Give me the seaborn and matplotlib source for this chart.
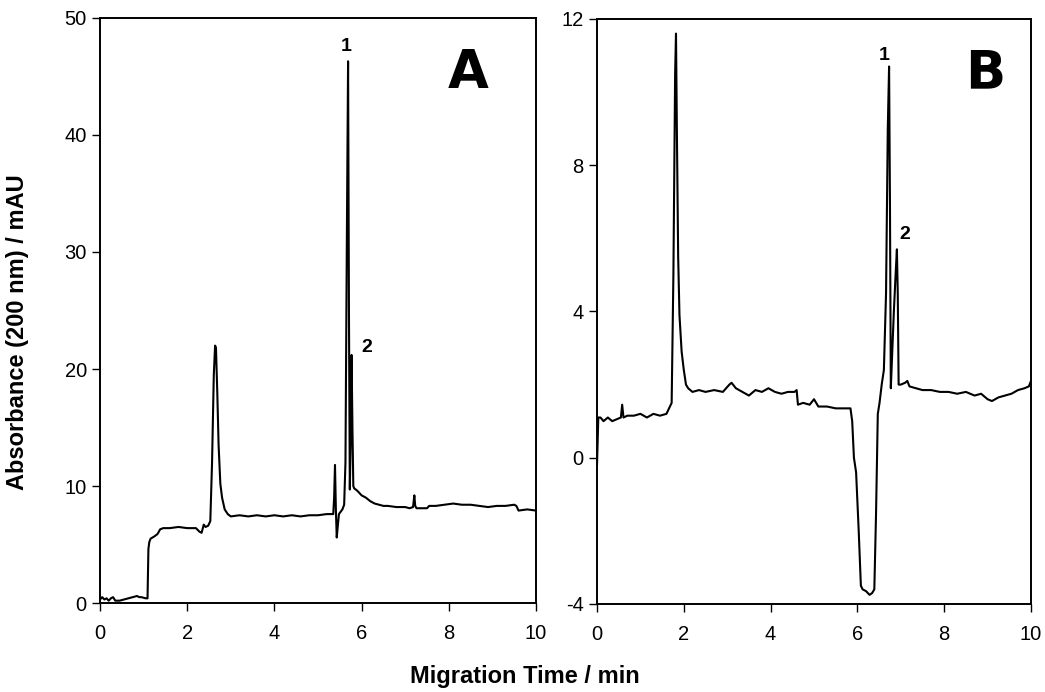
import matplotlib
matplotlib.use("Agg")
import matplotlib.pyplot as plt
import numpy as np
import pandas as pd
import seaborn as sns

# -------------------------
# Data
# -------------------------
# panel A: migration time (min) / absorbance (mAU)
time_a = [0.00, 0.05, 0.10, 0.15, 0.20, 0.25, 0.30, 0.35, 0.45, 0.55, 0.65, 0.75,
          0.85, 0.90, 0.95, 1.05, 1.09, 1.11, 1.13, 1.16, 1.25, 1.32, 1.38, 1.45,
          1.60, 1.80, 2.00, 2.20, 2.28, 2.33, 2.38, 2.42, 2.48, 2.53, 2.57, 2.61,
          2.64, 2.66, 2.69, 2.72, 2.76, 2.80, 2.86, 2.93, 3.00, 3.20, 3.40, 3.60,
          3.80, 4.00, 4.20, 4.40, 4.60, 4.80, 5.00, 5.20, 5.35, 5.37, 5.39, 5.41,
          5.43, 5.45, 5.48, 5.52, 5.56, 5.60, 5.63, 5.66, 5.69, 5.71, 5.73, 5.75,
          5.77, 5.79, 5.81, 5.83, 5.90, 6.00, 6.10, 6.20, 6.30, 6.40, 6.50, 6.60,
          6.80, 7.00, 7.10, 7.18, 7.21, 7.23, 7.26, 7.40, 7.50, 7.55, 7.70, 7.90,
          8.10, 8.30, 8.50, 8.70, 8.90, 9.10, 9.30, 9.50, 9.55, 9.60, 9.80, 10.00]
abs_a = [0.3, 0.5, 0.3, 0.4, 0.2, 0.4, 0.5, 0.2, 0.2, 0.3, 0.4, 0.5,
         0.6, 0.5, 0.5, 0.4, 0.4, 4.6, 5.2, 5.5, 5.7, 5.9, 6.3, 6.4,
         6.4, 6.5, 6.4, 6.4, 6.1, 6.0, 6.7, 6.5, 6.6, 7.0, 12.0, 19.5,
         22.0, 21.8, 18.0, 13.5, 10.2, 9.0, 8.0, 7.6, 7.4, 7.5, 7.4, 7.5,
         7.4, 7.5, 7.4, 7.5, 7.4, 7.5, 7.5, 7.6, 7.6, 9.0, 11.8, 8.0,
         5.6, 6.4, 7.6, 7.8, 8.0, 8.4, 12.0, 30.0, 46.3, 25.0, 9.7, 14.0,
         21.2, 15.0, 10.0, 9.8, 9.6, 9.2, 9.0, 8.7, 8.5, 8.4, 8.3, 8.3,
         8.2, 8.2, 8.1, 8.2, 9.2, 8.3, 8.1, 8.1, 8.1, 8.3, 8.3, 8.4,
         8.5, 8.4, 8.4, 8.3, 8.2, 8.3, 8.3, 8.4, 8.3, 7.9, 8.0, 7.9]

# panel B
time_b = [0.00, 0.03, 0.08, 0.15, 0.25, 0.35, 0.45, 0.55, 0.58, 0.61, 0.70, 0.85,
          1.00, 1.15, 1.30, 1.45, 1.60, 1.68, 1.72, 1.76, 1.80, 1.82, 1.84, 1.87,
          1.90, 1.95, 2.00, 2.05, 2.10, 2.20, 2.35, 2.50, 2.70, 2.90, 3.05, 3.10,
          3.20, 3.35, 3.50, 3.65, 3.80, 3.95, 4.10, 4.25, 4.40, 4.55, 4.60, 4.63,
          4.75, 4.90, 5.00, 5.10, 5.30, 5.50, 5.70, 5.84, 5.88, 5.92, 5.97, 6.03,
          6.08, 6.12, 6.20, 6.28, 6.34, 6.39, 6.43, 6.47, 6.51, 6.56, 6.61, 6.66,
          6.70, 6.73, 6.75, 6.77, 6.80, 6.84, 6.88, 6.91, 6.93, 6.95, 7.00, 7.10,
          7.15, 7.20, 7.35, 7.50, 7.70, 7.90, 8.10, 8.30, 8.50, 8.70, 8.85, 9.00,
          9.10, 9.25, 9.40, 9.55, 9.70, 9.85, 9.95, 10.00]
abs_b = [-0.2, 1.1, 1.1, 1.0, 1.1, 1.0, 1.05, 1.1, 1.45, 1.1, 1.15, 1.15,
         1.2, 1.1, 1.2, 1.15, 1.2, 1.4, 1.5, 5.0, 10.5, 11.6, 9.0, 5.5,
         3.9, 2.9, 2.4, 2.0, 1.9, 1.8, 1.85, 1.8, 1.85, 1.8, 2.0, 2.05,
         1.9, 1.8, 1.7, 1.85, 1.8, 1.9, 1.8, 1.75, 1.8, 1.8, 1.85, 1.45,
         1.5, 1.45, 1.6, 1.4, 1.4, 1.35, 1.35, 1.35, 1.0, 0.0, -0.4, -2.0,
         -3.5, -3.6, -3.65, -3.75, -3.7, -3.6, -1.5, 1.2, 1.5, 2.0, 2.4, 4.5,
         9.0, 10.7, 7.0, 1.9, 2.8, 4.0, 5.0, 5.7, 4.5, 2.0, 2.0, 2.05,
         2.1, 1.95, 1.9, 1.85, 1.85, 1.8, 1.8, 1.75, 1.8, 1.7, 1.75, 1.6,
         1.55, 1.65, 1.7, 1.75, 1.85, 1.9, 1.95, 2.1]

ylim_a = (0, 50)
ylim_b = (-4, 12)
yticks_a = [0, 10, 20, 30, 40, 50]
yticks_b = [-4, 0, 4, 8, 12]
xticks = [0, 2, 4, 6, 8, 10]

# peak labels: (time, absorbance, text)
peaks_a = [(5.64, 47.6, "1"), (6.12, 21.8, "2")]
peaks_b = [(6.62, 11.0, "1"), (7.09, 6.1, "2")]

# -------------------------
# Plot
# -------------------------
sns.set_style("ticks")
plt.rcParams["font.family"] = ["Liberation Sans", "DejaVu Sans"]
plt.rcParams["text.color"] = "black"
plt.rcParams["axes.unicode_minus"] = False

df_a = pd.DataFrame({"time": time_a, "absorbance": abs_a})
df_b = pd.DataFrame({"time": time_b, "absorbance": abs_b})

fig = plt.figure(figsize=(10.45, 6.92), dpi=100)
ax_a = fig.add_axes([0.0957, 0.1286, 0.4172, 0.8454])
ax_b = fig.add_axes([0.5713, 0.1272, 0.4153, 0.8454])


def draw_panel(ax, df, ylim, yticks, peaks, letter, letter_xy):
    sns.lineplot(data=df, x="time", y="absorbance", ax=ax, color="black",
                 linewidth=1.5, estimator=None, sort=False)
    ax.set_xlim(0, 10)
    ax.set_ylim(*ylim)
    ax.set_xticks(xticks)
    ax.set_yticks(yticks)
    ax.set_xlabel("")
    ax.set_ylabel("")
    ax.tick_params(direction="out", length=6, width=1, labelsize=14.5,
                   colors="black", labelcolor="black")
    ax.tick_params(axis="x", pad=9)
    for sp in ax.spines.values():
        sp.set_visible(True)
        sp.set_linewidth(1.4)
        sp.set_color("black")
    for x, y, txt in peaks:
        ax.text(x, y, txt, fontsize=14, fontweight="bold", ha="center", va="center",
                color="black")
    ax.text(letter_xy[0], letter_xy[1], letter, fontsize=38, fontweight="bold",
            family="DejaVu Sans", ha="center", va="center", color="black")


draw_panel(ax_a, df_a, ylim_a, yticks_a, peaks_a, "A", (8.45, 45.3))
draw_panel(ax_b, df_b, ylim_b, yticks_b, peaks_b, "B", (8.95, 10.5))

fig.text(0.017, 0.52, "Absorbance (200 nm) / mAU", rotation=90, fontsize=17,
         fontweight="bold", ha="center", va="center", color="black")
fig.text(0.502, 0.022, "Migration Time / min", fontsize=17, fontweight="bold",
         ha="center", va="center", color="black")

fig.savefig("out.png", dpi=100)
